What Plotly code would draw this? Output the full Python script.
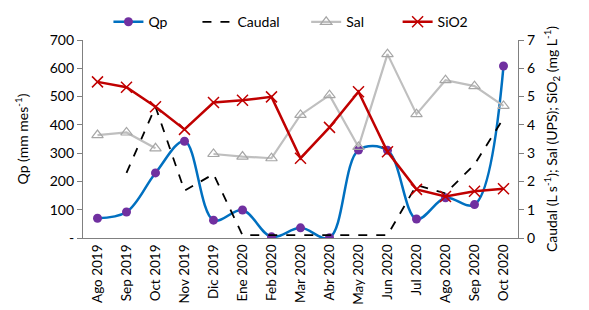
import plotly.graph_objects as go

months = ["Ago 2019", "Sep 2019", "Oct 2019", "Nov 2019", "Dic 2019", "Ene 2020", "Feb 2020",
          "Mar 2020", "Abr 2020", "May 2020", "Jun 2020", "Jul 2020", "Ago 2020", "Sep 2020", "Oct 2020"]
qp = [70, 92, 230, 342, 63, 99, 4, 36, 1, 311, 310, 67, 142, 118, 608]
caudal = [None, 2.3, 4.64, 1.67, 2.26, 0.1, 0.1, 0.1, 0.1, 0.1, 0.1, 1.87, 1.58, 2.6, 4.23]
sal = [3.64, 3.73, 3.17, None, 2.97, 2.88, 2.82, 4.35, 5.05, 3.22, 6.5, 4.38, 5.58, 5.37, 4.67]
sio2 = [5.52, 5.33, 4.64, 3.84, 4.79, 4.87, 4.99, 2.82, 3.91, 5.17, 3.05, 1.72, 1.47, 1.65, 1.74]

left_ticks = [0, 100, 200, 300, 400, 500, 600, 700]
left_labels = ["-", "100", "200", "300", "400", "500", "600", "700"]

font = "Lato, 'Open Sans', sans-serif"
nb = "\u00a0"

fig = go.Figure()
fig.add_trace(go.Scatter(x=months, y=qp, name="Qp" + nb * 7, mode="lines+markers",
                         line=dict(color="#0070C0", width=2.5, shape="spline", smoothing=1.0),
                         marker=dict(color="#7030A0", size=9), yaxis="y"))
fig.add_trace(go.Scatter(x=months, y=caudal, name="Caudal" + nb * 6, mode="lines",
                         line=dict(color="black", width=1.8, dash="dash"), yaxis="y2"))
fig.add_trace(go.Scatter(x=months, y=sal, name="Sal" + nb * 8, mode="lines+markers",
                         line=dict(color="#BFBFBF", width=2.2),
                         marker=dict(symbol="triangle-up-open", color="#A6A6A6", size=10,
                                     line=dict(width=1.2)), yaxis="y2"))
fig.add_trace(go.Scatter(x=months, y=sio2, name="SiO2", mode="lines+markers",
                         line=dict(color="#C00000", width=2.5),
                         marker=dict(symbol="x-thin", color="#C00000", size=11,
                                     line=dict(width=1.5, color="#C00000")), yaxis="y2"))

fig.update_layout(
    width=581, height=302,
    margin=dict(l=75, r=71, t=32, b=72, autoexpand=False),
    paper_bgcolor="white", plot_bgcolor="white",
    font=dict(family=font, size=14, color="black"),
    showlegend=True,
    legend=dict(orientation="h", x=0.478, xanchor="center", y=1.09, yanchor="middle",
                font=dict(size=14), itemwidth=30, traceorder="normal",
                bgcolor="rgba(0,0,0,0)"),
    xaxis=dict(type="category", tickangle=-90, showline=True, linecolor="#808080",
               linewidth=1.2, showgrid=False, ticks="", tickfont=dict(size=13.5),
               range=[-0.5, 14.5], automargin=False),
    yaxis=dict(range=[0, 700], tickvals=left_ticks, ticktext=left_labels,
               showline=True, linecolor="#808080", linewidth=1.2, showgrid=False,
               ticks="outside", ticklen=5, tickcolor="#808080", zeroline=False,
               tickfont=dict(size=14), automargin=False,
               title=dict(text="Qp (mm mes<sup>-1</sup>)", font=dict(size=14), standoff=17)),
    yaxis2=dict(range=[0, 7], dtick=1, overlaying="y", side="right",
                showline=True, linecolor="#808080", linewidth=1.2, showgrid=False,
                ticks="outside", ticklen=5, tickcolor="#808080", zeroline=False,
                tickfont=dict(size=14), automargin=False,
                title=dict(text="Caudal (L s<sup>-1</sup>); Sal (UPS); SiO<sub>2</sub> (mg L<sup>-1</sup>)",
                           font=dict(size=14), standoff=13)),
)

fig.write_html("out.html")
